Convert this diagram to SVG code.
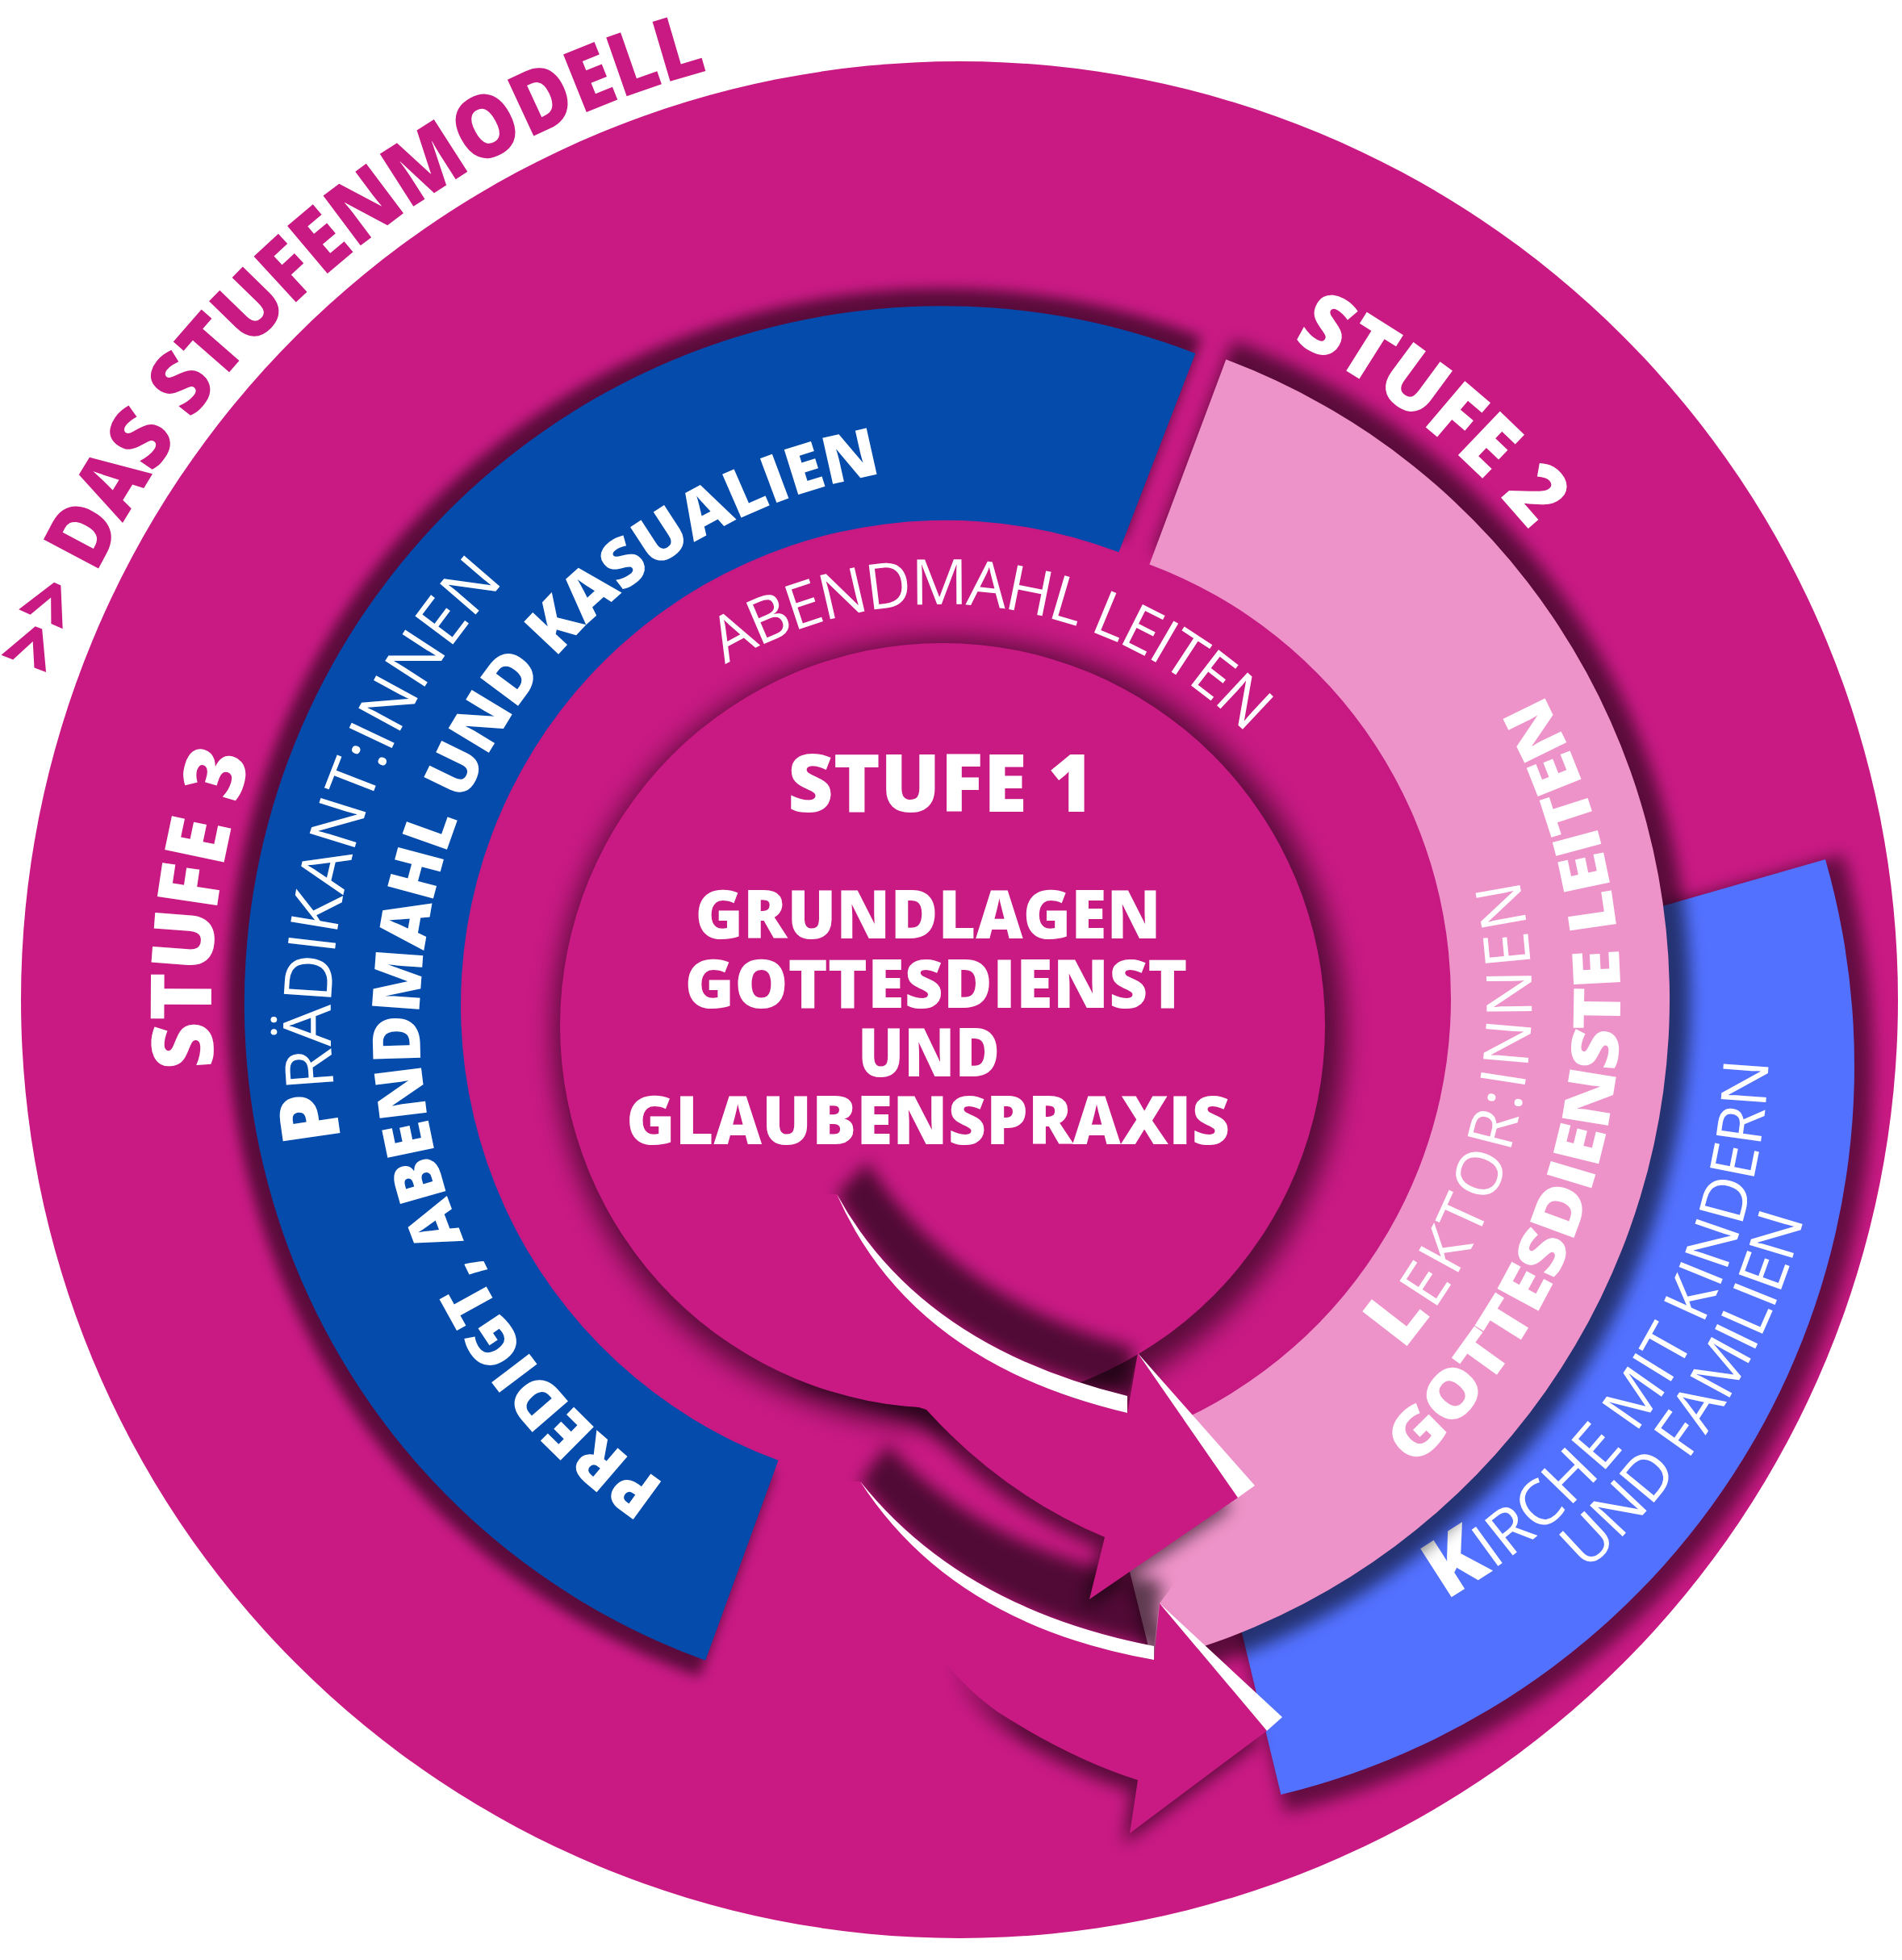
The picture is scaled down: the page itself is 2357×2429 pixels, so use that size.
<svg xmlns="http://www.w3.org/2000/svg" width="2357" height="2429" viewBox="0 0 2357 2429">
<defs>
<style>
.mag{fill:#C91A84}
.bold{font-family:"Open Sans","Noto Sans","Liberation Sans",sans-serif;font-weight:800;fill:#fff}
.thin{font-family:"Open Sans","Noto Sans","Liberation Sans",sans-serif;font-weight:400;fill:#fff}
.wht{fill:#fff}
.sh{fill:#000}
</style>
<filter id="b8" x="-20%" y="-20%" width="140%" height="140%"><feGaussianBlur stdDeviation="8"/></filter>
<filter id="b10" x="-20%" y="-20%" width="140%" height="140%"><feGaussianBlur stdDeviation="10"/></filter>
<filter id="b16" x="-20%" y="-20%" width="140%" height="140%"><feGaussianBlur stdDeviation="16"/></filter>
<clipPath id="cOuter"><circle cx="1189" cy="1239" r="1163"/></clipPath>
<clipPath id="cOutDisc"><path clip-rule="evenodd" d="M0,0H2357V2429H0Z M1642,1271 A474 474 0 1 0 694,1271 A474 474 0 1 0 1642,1271Z"/></clipPath>
<clipPath id="cS1"><path d="M1000,1480 L1037,1480 Q1140,1668 1397,1730 L1410,1677 L1650,1400 L1000,1400 Z"/></clipPath>
<clipPath id="cS2"><path d="M1020,1836 L1066,1836 Q1192,1994 1430,2040 L1437,1987 L1650,1700 L1020,1700 Z"/></clipPath>
<linearGradient id="fadeL" gradientUnits="userSpaceOnUse" x1="1170" y1="0" x2="1270" y2="0"><stop offset="0" stop-color="#000"/><stop offset="1" stop-color="#fff"/></linearGradient>
<mask id="mA2" maskUnits="userSpaceOnUse" x="0" y="0" width="2357" height="2429"><rect x="0" y="0" width="2357" height="2429" fill="url(#fadeL)"/></mask>
<path id="pBlue" d="M874.2,2057.8 A865 865 0 1 1 1481.4,438.0 L1386.4,684.3 A601 601 0 1 0 964.5,1809.8 Z"/>
<path id="pPink" d="M1519.3,445.6 A846 846 0 0 1 1427.7,2058.9 L1362.1,1795.9 A575 575 0 0 0 1424.4,699.4 Z"/>
<path id="pKids" d="M2262.0,1064.9 A929 929 0 0 1 1587.4,2224.0 L1519.5,1943.1 A640 640 0 0 0 1984.2,1144.6 Z"/>
<path id="pA1" d="M1037,1480 Q1128,1688 1397,1751 L1410,1677 L1534,1856 L1350,1982 L1369,1905 Q1243,1852 1148,1747 L1000,1700 L960,1560 Z"/>
<path id="pA2" d="M1066,1836 Q1180,2013 1430,2057 L1437,1987 L1570,2145 L1400,2272 L1410,2206 Q1328,2180 1237,2122 Q1120,2040 1066,1836 Z"/>
<path id="tTitle" d="M64.4,840.8 A1193 1193 0 0 1 878.2,87.2"/>
<path id="tS3" d="M265.8,1323.0 A927 927 0 0 1 311.4,940.3"/>
<path id="tS2" d="M1601.6,422.3 A915 915 0 0 1 1896.0,658.3"/>
<path id="tAbend" d="M899.1,823.6 A522 522 0 0 1 1544.8,909.7"/>
<path id="tPred" d="M824.2,1839.0 A690 690 0 0 1 1092.6,587.1"/>
<path id="tPraed" d="M423.1,1411.4 A800 800 0 0 1 624.9,721.4"/>
<path id="tLektor" d="M1738.6,1673.7 A675 675 0 0 0 1881.5,1089.6"/>
<path id="tGott" d="M1751.3,1818.6 A785 785 0 0 0 1910.9,859.8"/>
<path id="tKirche" d="M1791.9,1982.7 A805 805 0 0 0 2191.5,1315.1"/>
<path id="tFam" d="M1964.7,1946.9 A877 877 0 0 0 2235.3,1509.5"/>
</defs>

<rect x="0" y="0" width="2357" height="2429" fill="#fff"/>

<g id="outer-disc">
<circle class="mag" cx="1189" cy="1239" r="1163"/>
</g>

<g id="title">
<text class="bold" font-size="108" style="fill:#C91A84"><textPath href="#tTitle" startOffset="50%" text-anchor="middle" textLength="1153" lengthAdjust="spacingAndGlyphs">&gt;&gt; DAS STUFENMODELL</textPath></text>
</g>

<g id="stufe-kinder">
<g clip-path="url(#cOuter)"><use href="#pKids" class="sh" opacity="0.5" filter="url(#b10)" transform="translate(1369 1321) scale(1.025) translate(-1369 -1321)"/></g>
<use href="#pKids" fill="#5271FF"/>
<text class="thin" font-size="78"><textPath href="#tKirche" startOffset="50%" text-anchor="middle" textLength="812"><tspan class="bold" font-size="100">K</tspan>IRCHE MIT KINDERN</textPath></text>
<text class="thin" font-size="78"><textPath href="#tFam" startOffset="50%" text-anchor="middle" textLength="522">UND FAMILIEN</textPath></text>
</g>

<g id="stufe-2">
<use href="#pPink" class="sh" opacity="0.55" filter="url(#b10)" transform="translate(1223 1238) scale(1.03) translate(-1223 -1238)"/>
<use href="#pPink" fill="#EE93C9"/>
<text class="thin" font-size="78"><textPath href="#tLektor" startOffset="50%" text-anchor="middle" textLength="623"><tspan class="bold" font-size="98">L</tspan>EKTOR:INNEN</textPath></text>
<text class="bold" font-size="81"><textPath href="#tGott" startOffset="50%" text-anchor="middle" textLength="1048" lengthAdjust="spacingAndGlyphs">GOTTESDIENSTE LEITEN</textPath></text>
<text class="bold" font-size="105"><textPath href="#tS2" startOffset="50%" text-anchor="middle" textLength="380" lengthAdjust="spacingAndGlyphs">STUFE 2</textPath></text>
</g>

<g id="stufe-3">
<use href="#pBlue" class="sh" opacity="0.55" filter="url(#b8)" transform="translate(1170 1245) scale(1.025) translate(-1170 -1245)"/>
<use href="#pBlue" fill="#044BAB"/>
<text class="thin" font-size="82"><textPath href="#tPraed" startOffset="50%" text-anchor="middle" textLength="746"><tspan class="bold" font-size="100">P</tspan>RÄDIKANT:INNEN</textPath></text>
<text class="bold" font-size="82"><textPath href="#tPred" startOffset="50%" text-anchor="middle" textLength="1640" lengthAdjust="spacingAndGlyphs">PREDIGT, ABENDMAHL UND KASUALIEN</textPath></text>
<text class="bold" font-size="105"><textPath href="#tS3" startOffset="50%" text-anchor="middle" textLength="388" lengthAdjust="spacingAndGlyphs">STUFE 3</textPath></text>
</g>

<g id="abendmahl-ring">
<text class="thin" font-size="78"><textPath href="#tAbend" startOffset="50%" text-anchor="middle" textLength="703">ABENDMAHL LEITEN</textPath></text>
</g>

<g id="stufe-1">
<circle class="sh" cx="1176" cy="1280" r="490" opacity="0.55" filter="url(#b16)"/>
<circle class="mag" cx="1168" cy="1271" r="474"/>
<text class="bold" font-size="100" x="1166" y="1006" text-anchor="middle" textLength="380" lengthAdjust="spacingAndGlyphs">STUFE 1</text>
<text class="bold" font-size="83" x="1150" y="1163" text-anchor="middle" textLength="577" lengthAdjust="spacingAndGlyphs">GRUNDLAGEN</text>
<text class="bold" font-size="83" x="1160" y="1249" text-anchor="middle" textLength="623" lengthAdjust="spacingAndGlyphs">GOTTESDIENST</text>
<text class="bold" font-size="83" x="1151" y="1334" text-anchor="middle" textLength="176" lengthAdjust="spacingAndGlyphs">UND</text>
<text class="bold" font-size="83" x="1150" y="1418" text-anchor="middle" textLength="748" lengthAdjust="spacingAndGlyphs">GLAUBENSPRAXIS</text>
</g>

<g id="connectors">
<g id="arrow-2">
<g mask="url(#mA2)"><use href="#pA2" class="sh" opacity="0.55" filter="url(#b10)" transform="translate(-8 14)"/></g>
<g clip-path="url(#cS2)"><path class="sh" opacity="0.6" filter="url(#b10)" d="M1066,1836 Q1192,1994 1430,2040 L1440,1960 Q1220,1925 1100,1790 Z"/></g>
<use href="#pA2" class="mag"/>
<path class="wht" d="M1066,1836 Q1192,1994 1430,2040 L1430,2057 Q1180,2013 1066,1836 Z"/>
<path class="wht" d="M1437,1987 L1589,2128 L1570,2145 Z"/>
</g>
<g id="arrow-1">
<g clip-path="url(#cOutDisc)"><use href="#pA1" class="sh" opacity="0.55" filter="url(#b10)" transform="translate(-8 14)"/></g>
<use href="#pA1" class="mag"/>
<g clip-path="url(#cS1)"><path class="sh" opacity="0.6" filter="url(#b10)" d="M1037,1480 Q1140,1668 1397,1730 L1405,1670 Q1180,1610 1075,1440 Z"/></g>
<path class="wht" d="M1037,1480 Q1140,1668 1397,1730 L1397,1751 Q1128,1688 1037,1480 Z"/>
<path class="wht" d="M1410,1677 L1555,1841 L1534,1856 Z"/>
</g>
</g>
</svg>
